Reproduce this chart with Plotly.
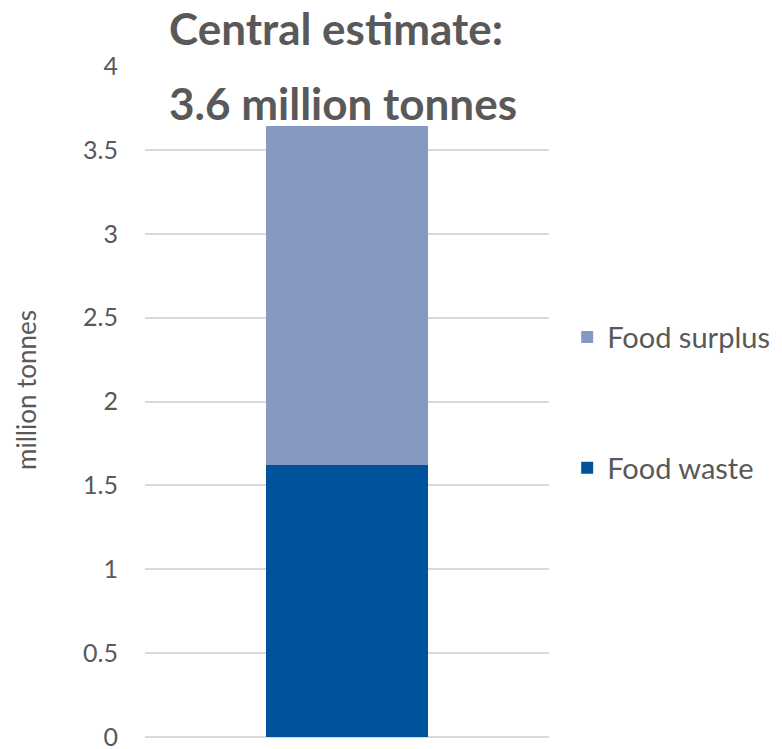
import plotly.graph_objects as go

categories = [""]
food_waste = [1.62]
food_surplus = [2.02]
y_ticks = [0, 0.5, 1, 1.5, 2, 2.5, 3, 3.5, 4]
y_tick_labels = ["0", "0.5", "1", "1.5", "2", "2.5", "3", "3.5", "4"]

FONT = "Lato, 'Open Sans', sans-serif"
GREY = "#595959"

fig = go.Figure()
fig.add_trace(go.Bar(x=categories, y=food_waste, name="Food waste",
                     marker=dict(color="#00539A", line=dict(width=0)),
                     width=0.4, legendgroup="w", legendrank=2))
fig.add_trace(go.Bar(x=categories, y=food_surplus, name="Food surplus",
                     marker=dict(color="#8599C2", line=dict(width=0)),
                     width=0.4, legendgroup="s", legendrank=1))

fig.update_layout(
    width=782, height=749,
    barmode="stack",
    paper_bgcolor="white", plot_bgcolor="white",
    margin=dict(l=145, r=233, t=66, b=12, autoexpand=False),
    font=dict(family=FONT, color=GREY, size=20),
    showlegend=True,
    legend=dict(x=1.045, y=0.634, xanchor="left", yanchor="top",
                traceorder="grouped", tracegroupgap=90,
                font=dict(size=29, color=GREY, family=FONT),
                bgcolor="rgba(0,0,0,0)"),
    xaxis=dict(showticklabels=False, showgrid=False, zeroline=False,
               showline=False, ticks="", automargin=False),
    yaxis=dict(range=[0, 4], tickvals=y_ticks, ticktext=y_tick_labels,
               showgrid=True, gridcolor="#D9D9D9", gridwidth=1.5,
               zeroline=True, zerolinecolor="#D9D9D9", zerolinewidth=1.5,
               showline=False, ticks="outside", ticklen=21,
               tickcolor="rgba(0,0,0,0)", ticklabeloverflow="allow",
               automargin=False,
               tickfont=dict(size=25, color=GREY, family=FONT)),
    annotations=[
        dict(text="<b>Central estimate:</b>", xref="paper", yref="paper",
             x=0.473, y=1.057, xanchor="center", yanchor="middle",
             showarrow=False, font=dict(size=44, color=GREY, family=FONT)),
        dict(text="<b>3.6 million tonnes</b>", xref="paper", yref="paper",
             x=0.49, y=0.945, xanchor="center", yanchor="middle",
             showarrow=False, font=dict(size=44, color=GREY, family=FONT)),
        dict(text="million tonnes", xref="paper", yref="paper",
             x=(26 - 145) / 404, y=(737 - 390) / 671,
             xanchor="center", yanchor="middle", textangle=-90,
             showarrow=False, font=dict(size=26, color=GREY, family=FONT)),
    ],
)

fig.write_html("out.html")
